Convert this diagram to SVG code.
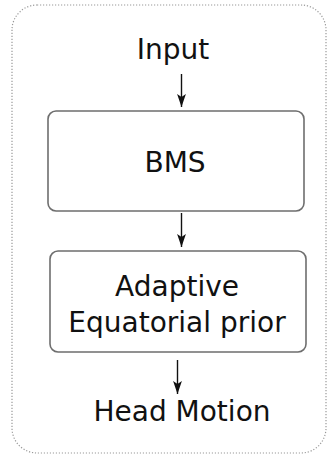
<svg xmlns="http://www.w3.org/2000/svg" width="328" height="463" viewBox="0 0 328 463">
  <style>
    .frame { fill: none; stroke: #999; stroke-width: 1.2; stroke-dasharray: 1.2 1.8; }
    .box { fill: #fff; stroke: #6e6e6e; stroke-width: 1.6; }
    .label { font-family: "DejaVu Sans", "Liberation Sans", sans-serif; font-size: 28px; fill: #111; text-anchor: middle; }
    .edge { stroke: #111; stroke-width: 1.4; fill: none; marker-end: url(#head); }
  </style>
  <defs>
    <marker id="head" viewBox="0 0 13 10" refX="13" refY="5" markerWidth="13" markerHeight="10" markerUnits="userSpaceOnUse" orient="auto">
      <path d="M0,0.6 L13,5 L0,9.4 L3,5 Z" fill="#111"/>
    </marker>
  </defs>

  <rect class="frame" x="12" y="5" width="314" height="448" rx="25" ry="25"/>

  <g id="input">
    <text class="label" x="173" y="59">Input</text>
  </g>

  <g id="bms">
    <rect class="box" x="48" y="111" width="256" height="100" rx="8" ry="8"/>
    <text class="label" x="175" y="172">BMS</text>
  </g>

  <g id="prior">
    <rect class="box" x="50" y="251" width="256" height="101" rx="8" ry="8"/>
    <text class="label" x="177" y="296">Adaptive</text>
    <text class="label" x="177" y="332">Equatorial prior</text>
  </g>

  <g id="head-motion">
    <text class="label" x="182" y="421">Head Motion</text>
  </g>

  <g id="connectors">
    <line class="edge" x1="181.5" y1="74" x2="181.5" y2="107"/>
    <line class="edge" x1="181.5" y1="213" x2="181.5" y2="247"/>
    <line class="edge" x1="177.5" y1="360" x2="177.5" y2="394"/>
  </g>
</svg>
